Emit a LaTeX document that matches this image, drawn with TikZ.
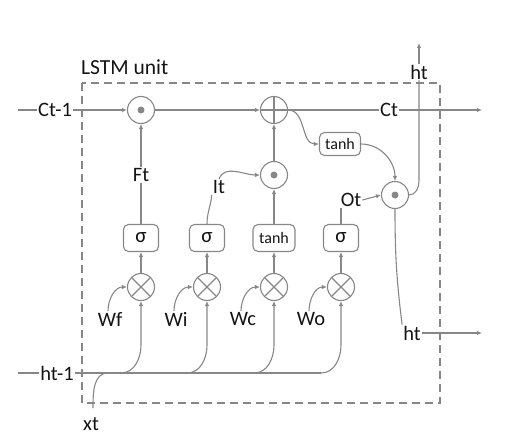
\documentclass[tikz,border=0pt]{standalone}
\usepackage{fontspec}
\setmainfont{Carlito}
\usetikzlibrary{arrows.meta,calc}
\definecolor{lc}{RGB}{135,135,135}
\definecolor{tc}{RGB}{20,20,20}
\tikzset{
  conn/.style={draw=lc, line width=1.1pt},
  arr/.style={conn, -{Latex[length=5pt,width=4.5pt]}},
  lab/.style={text=tc, font=\fontsize{20.5}{20.5}\selectfont, inner sep=1pt},
  opcirc/.style={circle, draw=lc, line width=1.1pt, minimum size=27pt, inner sep=0pt},
  dotop/.style={opcirc, path picture={\fill[lc] (path picture bounding box.center) circle (3.5pt);}},
  plusop/.style={opcirc, path picture={\draw[lc,line width=1.1pt] (path picture bounding box.north) -- (path picture bounding box.south) (path picture bounding box.west) -- (path picture bounding box.east);}},
  timesop/.style={opcirc, path picture={\draw[lc,line width=1.1pt] (path picture bounding box.north west) -- (path picture bounding box.south east) (path picture bounding box.north east) -- (path picture bounding box.south west);}},
  gbox/.style={draw=lc, line width=1.1pt, rounded corners=5pt, minimum width=35pt, minimum height=27pt, inner sep=0pt, text=tc},
  sigbox/.style={gbox, font=\fontsize{21}{21}\selectfont},
  tanhbox/.style={gbox, font=\fontsize{16}{16}\selectfont},
}
\begin{document}
\begin{tikzpicture}[x=1pt,y=1pt]
\useasboundingbox (0,0) rectangle (529,437);
\draw[lc, line width=1.3pt, dash pattern=on 8pt off 5pt] (82,354) rectangle (440,34);
\node[lab, anchor=west, font=\fontsize{21.5}{21.5}\selectfont] (title) at (80,370) {LSTM unit};

% cell state line
\coordinate (cin) at (18,327);
\node[lab] (ctm1) at (55,327) {Ct-1};
\node[dotop] (m1) at (141,327) {};
\node[plusop] (pl) at (274,327) {};
\node[lab] (ct) at (389,327) {Ct};
\coordinate (cout) at (482,327);

\node[tanhbox, minimum width=41pt, minimum height=23pt] (tt) at (340,293) {tanh};
\node[dotop] (m3) at (395,242) {};
\node[lab] (ot) at (351,237) {Ot};
\node[lab] (htop) at (419,365) {ht};
\coordinate (hup) at (419,394);

\node[dotop] (m2) at (274,262) {};
\node[lab] (it) at (219,250) {It};
\node[lab] (ft) at (141,262) {Ft};

% gate boxes
\node[sigbox] (s1) at (141,199) {σ};
\node[sigbox] (s2) at (207,199) {σ};
\node[tanhbox, minimum width=42pt] (th) at (274,199) {tanh};
\node[sigbox] (s4) at (341,199) {σ};

% products
\node[timesop] (x1) at (141,150) {};
\node[timesop] (x2) at (207,150) {};
\node[timesop] (x3) at (274,150) {};
\node[timesop] (x4) at (341,150) {};

\node[lab] (wf) at (110,118) {Wf};
\node[lab] (wi) at (176,118) {Wi};
\node[lab] (wc) at (243,118) {Wc};
\node[lab] (wo) at (311,118) {Wo};

\coordinate (hin) at (18,64);
\node[lab] (htm1) at (57,64) {ht-1};
\node[lab] (xt) at (91,13) {xt};
\coordinate (xs) at (93,29);
\coordinate (xj) at (108,64);
\node[lab] (hto) at (412,104) {ht};
\coordinate (hout) at (482,104);

% connectors: cell state
\draw[conn] (cin) -- (ctm1.west);
\draw[arr] (ctm1.east) -- (m1.west);
\draw[arr] (m1.east) -- (pl.west);
\draw[conn] (pl.east) -- (ct.west);
\draw[arr] (ct.east) -- (cout);
\draw[arr] (pl.east) to[out=0,in=180] (tt.west);
\draw[arr] (tt.east) to[out=0,in=90] (m3.north);
\draw[arr] (ot.east) -- (m3.west);
\draw[conn] (m3.east) to[out=0,in=-90] (htop.south |- m3.north) -- (htop.south);
\draw[arr] (htop.north) -- (hup);
\draw[conn] (m3.south) to[out=-90,in=97] (hto.north west);
\draw[arr] (hto.east) -- (hout);

% gates
\draw[arr] (m2.north) -- (pl.south);
\draw[conn] (s1.north) -- (ft.south);
\draw[arr] (ft.north) -- (m1.south);
\draw[conn] (s2.north) to[out=90,in=-95] (it.south west);
\draw[arr] (it.north) to[out=70,in=180] (m2.west);
\draw[arr] (th.north) -- (m2.south);
\draw[conn] (s4.north) -- (s4.north |- ot.south);

\draw[arr] (x1.north) -- (s1.south);
\draw[arr] (x2.north) -- (s2.south);
\draw[arr] (x3.north) -- (th.south);
\draw[arr] (x4.north) -- (s4.south);

\draw[arr] ([xshift=-2pt]wf.north) to[out=90,in=180] (x1.west);
\draw[arr] ([xshift=-2pt]wi.north) to[out=90,in=180] (x2.west);
\draw[arr] ([xshift=-2pt]wc.north) to[out=90,in=180] (x3.west);
\draw[arr] ([xshift=-2pt]wo.north) to[out=90,in=180] (x4.west);

% inputs
\draw[conn] (hin) -- (htm1.west);
\draw[conn] (htm1.east) -- ($(x4.south |- htm1.east)+(-20,0)$);
\draw[conn] (xs) to[out=90,in=180] (xj);
\foreach \g in {x1,x2,x3,x4}{
  \draw[arr] ($(\g.south |- htm1.east)+(-20,0)$) to[out=0,in=-90] ($(\g.south |- htm1.east)+(0,28)$) -- (\g.south);
}
\end{tikzpicture}
\end{document}
